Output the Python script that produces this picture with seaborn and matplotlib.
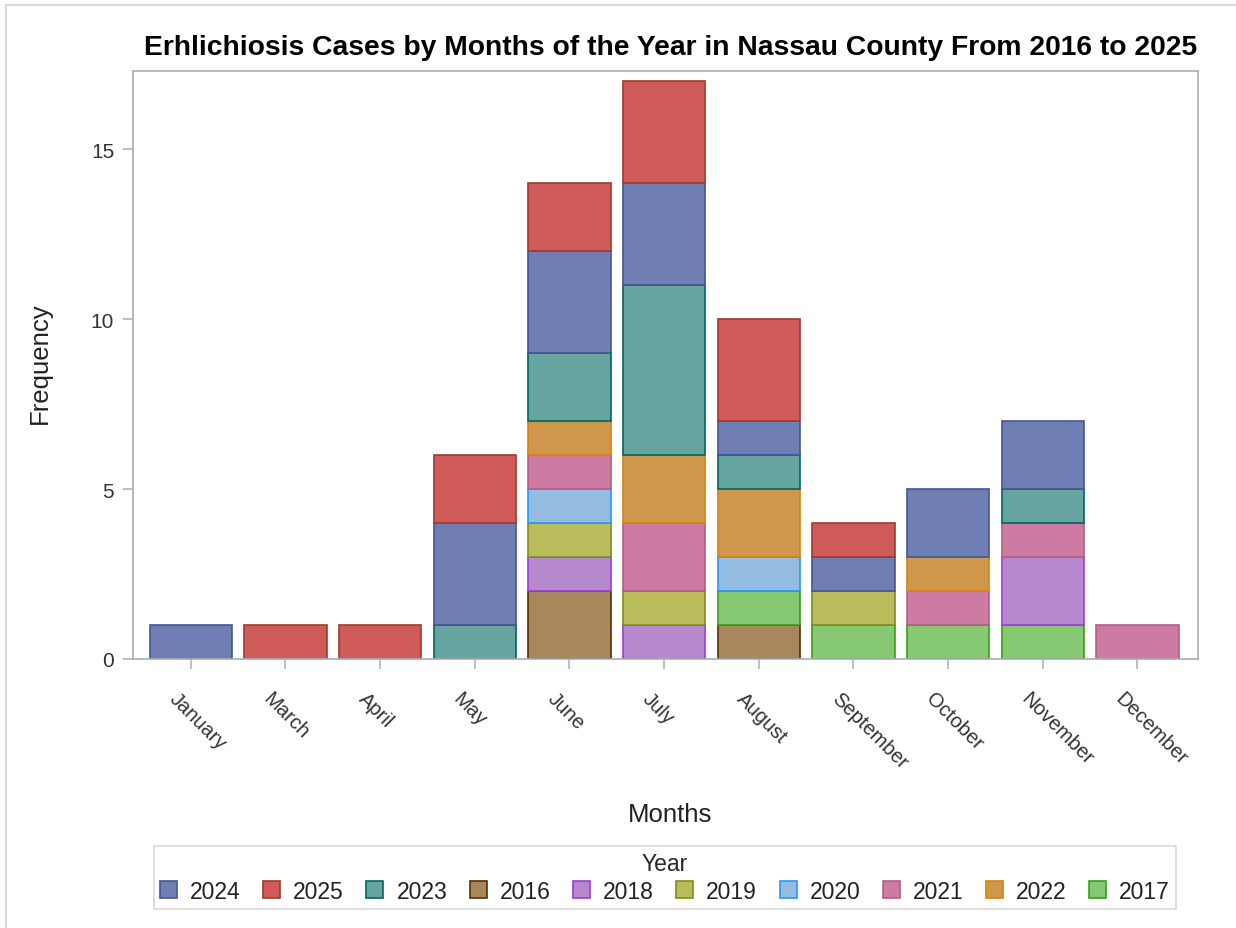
import numpy as np
import pandas as pd
import matplotlib
matplotlib.use("Agg")
import matplotlib.pyplot as plt
import matplotlib.transforms as mtransforms
import seaborn as sns
from matplotlib.patches import Patch, Rectangle
from matplotlib.colors import to_hex

# data: cases per (month, year)
months = ["January", "March", "April", "May", "June", "July",
          "August", "September", "October", "November", "December"]
years = ["2016", "2017", "2018", "2019", "2020", "2021", "2022", "2023", "2024", "2025"]

cases_2016 = [0, 0, 0, 0, 2, 0, 1, 0, 0, 0, 0]
cases_2017 = [0, 0, 0, 0, 0, 0, 1, 1, 1, 1, 0]
cases_2018 = [0, 0, 0, 0, 1, 1, 0, 0, 0, 2, 0]
cases_2019 = [0, 0, 0, 0, 1, 1, 0, 1, 0, 0, 0]
cases_2020 = [0, 0, 0, 0, 1, 0, 1, 0, 0, 0, 0]
cases_2021 = [0, 0, 0, 0, 1, 2, 0, 0, 1, 1, 1]
cases_2022 = [0, 0, 0, 0, 1, 2, 2, 0, 1, 0, 0]
cases_2023 = [0, 0, 0, 1, 2, 5, 1, 0, 0, 1, 0]
cases_2024 = [1, 0, 0, 3, 3, 3, 1, 1, 2, 2, 0]
cases_2025 = [0, 1, 1, 2, 2, 3, 3, 1, 0, 0, 0]

legend_order = ["2024", "2025", "2023", "2016", "2018", "2019", "2020", "2021", "2022", "2017"]

fill_colors = {
    "2024": "#6F7EB3", "2025": "#D05B5B", "2023": "#66A5A0", "2016": "#A9865B",
    "2018": "#B689CD", "2019": "#BABC5C", "2020": "#94BDE1", "2021": "#CD7BA3",
    "2022": "#CF974B", "2017": "#87C873",
}
edge_colors = {
    "2024": "#445694", "2025": "#A23A2E", "2023": "#01665E", "2016": "#543005",
    "2018": "#9D3CDB", "2019": "#7F8E1F", "2020": "#2597FA", "2021": "#B26084",
    "2022": "#D8830D", "2017": "#3A9E17",
}

all_cases = [cases_2016, cases_2017, cases_2018, cases_2019, cases_2020,
             cases_2021, cases_2022, cases_2023, cases_2024, cases_2025]
rows = []
for yr, vals in zip(years, all_cases):
    for m, v in zip(months, vals):
        rows.append({"month": m, "year": yr, "cases": v})
df = pd.DataFrame(rows)
df["month"] = pd.Categorical(df["month"], categories=months, ordered=True)

sns.set_style("white")
plt.rcParams["font.family"] = ["Liberation Sans", "DejaVu Sans"]

fig = plt.figure(figsize=(12.36, 9.29), dpi=100)
ax = fig.add_axes([133 / 1236, 1 - 660 / 929, (1198 - 133) / 1236, (660 - 72) / 929])

# seaborn stacks the last hue level at the bottom, so give years newest-first
sns.histplot(data=df, x="month", weights="cases", hue="year",
             hue_order=years[::-1], multiple="stack", discrete=True,
             shrink=0.87, palette=fill_colors, alpha=1, linewidth=1.2,
             legend=False, ax=ax)

# per-year outline colours, and hide empty segments
lookup = {to_hex(c).lower(): yr for yr, c in fill_colors.items()}
for p in ax.patches:
    if p.get_height() <= 0:
        p.set_visible(False)
        continue
    yr = lookup.get(to_hex(p.get_facecolor()).lower())
    if yr:
        p.set_edgecolor(edge_colors[yr])

ax.set_xlim(-0.61, 10.64)
ax.set_ylim(0, 17.3)
ax.set_yticks([0, 5, 10, 15])
ax.set_xticks(range(len(months)))
ax.set_xticklabels(months, rotation=-45, ha="left", va="top",
                   rotation_mode="anchor", fontsize=14.5, color="#333333")
ax.tick_params(axis="y", labelsize=15, labelcolor="#333333")
ax.tick_params(axis="both", which="major", length=7.5, width=1.2, color="#B0B4BA",
               direction="out", bottom=True, left=True, pad=6)
ax.tick_params(axis="x", pad=14)
shift = mtransforms.ScaledTranslation(-12 / 100, 0, fig.dpi_scale_trans)
for lab in ax.get_xticklabels():
    lab.set_transform(lab.get_transform() + shift)
for s in ax.spines.values():
    s.set_color("#A9AEB5")
    s.set_linewidth(1.2)

ax.set_xlabel("Months", fontsize=18.5, color="#222222")
ax.xaxis.set_label_coords(0.504, -0.243)
ax.set_ylabel("Frequency", fontsize=18.5, color="#222222")
ax.yaxis.set_label_coords(-0.076, 0.505)
ax.set_title("Erhlichiosis Cases by Months of the Year in Nassau County From 2016 to 2025",
             fontsize=20.3, fontweight="bold", pad=12, x=0.5047, color="black")

handles = [Patch(facecolor=fill_colors[y], edgecolor=edge_colors[y], linewidth=1.2, label=y)
           for y in legend_order]
leg = fig.legend(handles=handles, title="Year", ncol=10, loc="center",
                 bbox_to_anchor=(665 / 1236, 1 - 878.5 / 929), fontsize=16.5,
                 title_fontsize=16.5, frameon=True, fancybox=False,
                 handlelength=0.74, handleheight=0.74, handletextpad=0.57,
                 columnspacing=0.98, borderpad=0.25, labelspacing=0.2,
                 borderaxespad=0)
leg.get_frame().set_edgecolor("#D0D0D0")
leg.get_frame().set_linewidth(1.2)
for t in leg.get_texts():
    t.set_color("#222222")

# thin page border on top/left
fig.patches.append(Rectangle((6 / 1236, -0.1), 1.2, 1 - 6 / 929 + 0.1,
                             transform=fig.transFigure, fill=False,
                             edgecolor="#D8D8E0", linewidth=1.5))

fig.savefig("out.png", dpi=100)
